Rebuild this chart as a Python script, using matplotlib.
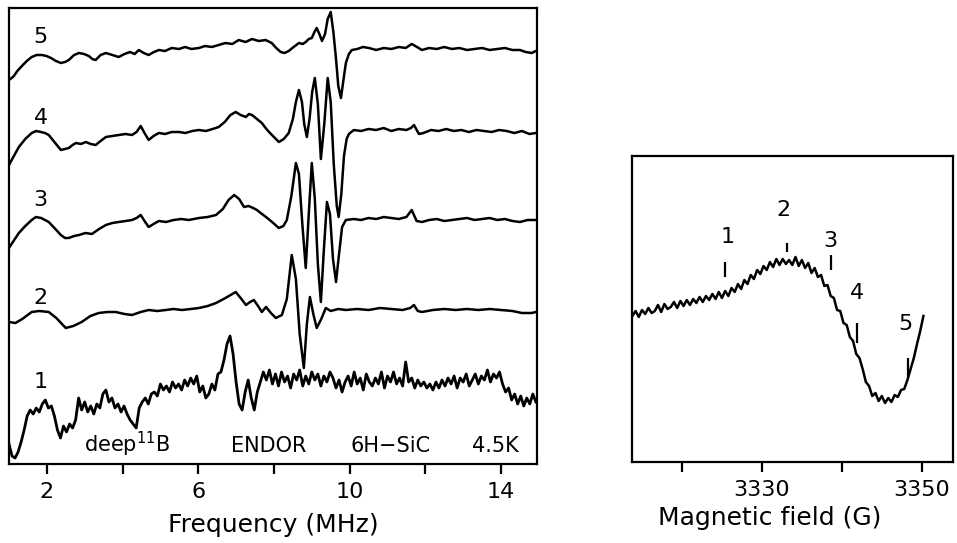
import numpy as np
import matplotlib
matplotlib.use("Agg")
import matplotlib.pyplot as plt

# ENDOR spectra, frequency in MHz, signal in arbitrary units (stacked)
f5 = [1.00, 1.07, 1.13, 1.22, 1.34, 1.47, 1.60, 1.73, 1.87, 1.99, 2.11, 2.24, 2.37, 2.48, 2.58, 2.72, 2.85, 2.98, 3.11, 3.20,
      3.29, 3.42, 3.56, 3.73, 3.90, 4.05, 4.20, 4.32, 4.43, 4.56, 4.69, 4.83, 4.96, 5.12, 5.30, 5.49, 5.65, 5.82, 6.02, 6.18,
      6.36, 6.54, 6.72, 6.90, 7.07, 7.25, 7.42, 7.60, 7.78, 7.94, 8.06, 8.18, 8.28, 8.39, 8.52, 8.66, 8.76, 8.84, 8.92, 9.00,
      9.07, 9.13, 9.20, 9.27, 9.35, 9.42, 9.50, 9.57, 9.64, 9.70, 9.77, 9.84, 9.90, 9.98, 10.06, 10.20, 10.35, 10.51, 10.70, 10.90,
      11.10, 11.30, 11.48, 11.64, 11.78, 11.91, 12.10, 12.30, 12.50, 12.70, 12.90, 13.10, 13.30, 13.50, 13.70, 13.90, 14.10, 14.30, 14.50, 14.65,
      14.81, 14.92]
h5 = [384, 386, 388, 393, 398, 403, 407, 409, 409, 408, 406, 403, 401, 402, 404, 409, 411, 410, 408, 405,
      404, 409, 411, 409, 407, 410, 412, 410, 414, 411, 409, 412, 414, 413, 416, 415, 417, 415, 416, 418,
      417, 419, 421, 420, 424, 422, 425, 423, 424, 421, 416, 412, 411, 413, 417, 421, 420, 422, 425, 426,
      432, 436, 430, 423, 430, 445, 452, 432, 405, 378, 366, 385, 401, 410, 414, 415, 417, 416, 414, 416,
      415, 417, 416, 420, 417, 414, 416, 415, 417, 415, 416, 414, 415, 416, 414, 415, 416, 414, 414, 412,
      411, 413]

f4 = [1.00, 1.10, 1.26, 1.43, 1.60, 1.72, 1.84, 1.95, 2.05, 2.20, 2.37, 2.48, 2.58, 2.68, 2.77, 2.90, 3.03, 3.16, 3.29, 3.42,
      3.56, 3.73, 3.90, 4.08, 4.25, 4.37, 4.48, 4.58, 4.69, 4.82, 4.96, 5.12, 5.30, 5.49, 5.66, 5.84, 6.02, 6.20, 6.38, 6.54,
      6.70, 6.85, 6.99, 7.12, 7.26, 7.34, 7.42, 7.55, 7.68, 7.78, 7.87, 8.00, 8.13, 8.26, 8.39, 8.50, 8.58, 8.66, 8.74, 8.80,
      8.87, 8.94, 9.01, 9.08, 9.16, 9.24, 9.33, 9.42, 9.50, 9.58, 9.66, 9.71, 9.78, 9.85, 9.92, 9.98, 10.11, 10.30, 10.50, 10.70,
      10.90, 11.10, 11.30, 11.50, 11.62, 11.70, 11.83, 11.95, 12.15, 12.35, 12.55, 12.75, 12.95, 13.15, 13.35, 13.55, 13.75, 13.95, 14.15, 14.35,
      14.55, 14.75, 14.92]
h4 = [299, 306, 317, 325, 331, 333, 332, 331, 329, 322, 314, 315, 316, 319, 321, 320, 322, 320, 319, 323,
      327, 328, 329, 330, 329, 332, 338, 331, 324, 328, 331, 330, 332, 332, 331, 333, 334, 333, 335, 337,
      342, 349, 352, 349, 347, 350, 349, 345, 341, 336, 332, 327, 322, 325, 331, 345, 362, 374, 362, 340,
      327, 345, 372, 386, 360, 305, 340, 386, 362, 300, 258, 247, 270, 308, 325, 330, 334, 333, 335, 334,
      336, 333, 335, 334, 336, 339, 330, 331, 334, 333, 335, 333, 334, 332, 334, 333, 332, 334, 333, 331,
      333, 330, 331]

f3 = [1.00, 1.12, 1.26, 1.43, 1.60, 1.71, 1.85, 2.05, 2.20, 2.37, 2.48, 2.58, 2.72, 2.85, 3.02, 3.19, 3.38, 3.56, 3.73, 3.90,
      4.08, 4.25, 4.37, 4.48, 4.58, 4.69, 4.82, 4.96, 5.15, 5.35, 5.55, 5.75, 6.02, 6.25, 6.47, 6.65, 6.80, 6.95, 7.08, 7.21,
      7.33, 7.45, 7.55, 7.65, 7.79, 7.95, 8.13, 8.25, 8.34, 8.46, 8.58, 8.66, 8.75, 8.84, 8.92, 9.00, 9.08, 9.16, 9.24, 9.32,
      9.40, 9.48, 9.56, 9.64, 9.72, 9.80, 9.90, 10.11, 10.30, 10.50, 10.70, 10.90, 11.10, 11.30, 11.50, 11.64, 11.77, 11.91, 12.10, 12.30,
      12.50, 12.70, 12.90, 13.10, 13.30, 13.50, 13.70, 13.90, 14.10, 14.30, 14.50, 14.70, 14.92]
h3 = [216, 223, 231, 238, 244, 247, 246, 242, 236, 229, 226, 226, 228, 229, 231, 230, 235, 239, 241, 242,
      243, 244, 246, 249, 243, 237, 240, 243, 242, 244, 245, 244, 246, 247, 249, 255, 264, 269, 265, 257,
      258, 256, 254, 251, 247, 242, 236, 238, 244, 268, 301, 290, 240, 196, 250, 301, 265, 200, 162, 215,
      262, 250, 205, 182, 210, 237, 244, 245, 244, 246, 245, 247, 246, 245, 247, 254, 243, 242, 244, 245,
      243, 244, 245, 246, 244, 245, 246, 244, 245, 243, 242, 244, 244]

f2 = [1.00, 1.17, 1.35, 1.60, 1.80, 2.05, 2.25, 2.50, 2.70, 2.92, 3.15, 3.37, 3.60, 3.82, 4.05, 4.25, 4.48, 4.69, 4.92, 5.14,
      5.35, 5.57, 5.80, 6.02, 6.25, 6.47, 6.72, 6.99, 7.12, 7.26, 7.37, 7.47, 7.58, 7.68, 7.79, 7.92, 8.05, 8.21, 8.34, 8.47,
      8.58, 8.68, 8.79, 8.87, 8.95, 9.04, 9.13, 9.25, 9.37, 9.50, 9.70, 9.90, 10.20, 10.50, 10.80, 11.10, 11.40, 11.60, 11.70, 11.80,
      11.91, 12.20, 12.50, 12.80, 13.10, 13.40, 13.70, 14.00, 14.30, 14.55, 14.81, 14.92]
h2 = [142, 141, 145, 152, 153, 152, 146, 136, 138, 142, 148, 151, 152, 152, 150, 149, 152, 154, 153, 154,
      155, 154, 155, 156, 158, 161, 166, 172, 166, 159, 162, 164, 158, 152, 157, 151, 146, 149, 165, 209,
      185, 130, 96, 140, 167, 150, 136, 145, 156, 153, 155, 154, 155, 154, 156, 155, 154, 156, 159, 153,
      152, 154, 155, 154, 155, 154, 155, 154, 153, 151, 151, 152]

# trace 1 sampled every 0.08 MHz from 1.00 MHz
f1_start, f1_step = 1.00, 0.08
h1 = [20, 8, 6, 12, 22, 34, 48, 54, 50, 56,
      52, 60, 64, 56, 58, 48, 34, 26, 38, 32,
      40, 36, 44, 66, 54, 62, 52, 58, 50, 60,
      56, 70, 74, 62, 66, 56, 60, 52, 58, 50,
      44, 40, 36, 56, 62, 66, 60, 70, 72, 68,
      80, 74, 78, 72, 82, 76, 80, 74, 84, 78,
      86, 80, 88, 72, 78, 66, 70, 80, 74, 90,
      92, 104, 120, 128, 110, 82, 60, 54, 72, 84,
      66, 54, 72, 82, 92, 84, 94, 80, 90, 78,
      92, 82, 88, 76, 90, 84, 94, 78, 88, 80,
      92, 84, 90, 78, 88, 82, 92, 86, 76, 84,
      72, 82, 88, 78, 92, 80, 86, 74, 90, 82,
      78, 86, 80, 92, 76, 88, 82, 92, 80, 86,
      78, 102, 82, 86, 76, 84, 78, 82, 76, 80,
      74, 82, 76, 84, 78, 86, 80, 88, 76, 86,
      82, 90, 78, 84, 90, 80, 88, 84, 94, 82,
      90, 86, 92, 80, 72, 76, 64, 70, 60, 68,
      58, 66, 60, 70, 62]
f1 = f1_start + f1_step * np.arange(len(h1))

trace_names = ["1", "2", "3", "4", "5"]
trace_label_h = [82, 166, 264, 346, 427]

# EPR line, field sampled every 0.4 G from 3313.8 G
b_start, b_step = 3313.8, 0.4
epr = [146, 151, 145, 152, 148, 154, 149, 151, 157, 150, 158, 153, 155, 160, 154, 161, 156, 162, 157, 163,
       159, 165, 160, 166, 162, 168, 163, 170, 164, 171, 166, 174, 170, 178, 173, 182, 178, 187, 183, 192,
       188, 196, 192, 200, 195, 203, 197, 203, 198, 202, 197, 205, 196, 202, 194, 199, 189, 194, 185, 187,
       176, 177, 166, 164, 152, 151, 139, 137, 125, 121, 108, 104, 93, 80, 76, 66, 69, 61, 66, 59,
       64, 60, 67, 65, 72, 73, 82, 93, 104, 118, 131, 146]
field = b_start + b_step * np.arange(len(epr))

mark_field = [3325.4, 3333.1, 3338.6, 3341.9, 3348.25]
mark_lo = [185, 210, 192, 119, 85]
mark_hi = [200, 219, 207, 139, 104]
mark_text_field = [3325.7, 3332.75, 3338.6, 3341.9, 3347.9]
mark_text_h = [225, 252, 221, 169, 138]

fig = plt.figure(figsize=(9.57, 5.43), dpi=100)
ax = fig.add_axes([9 / 957, 79 / 543, 528 / 957, 456 / 543])
ax2 = fig.add_axes([632 / 957, 81 / 543, 321 / 957, 306 / 543])

lw = 1.8
ax.plot(f1, h1, color="black", lw=2.0)
ax.plot(f2, h2, color="black", lw=lw)
ax.plot(f3, h3, color="black", lw=lw)
ax.plot(f4, h4, color="black", lw=lw)
ax.plot(f5, h5, color="black", lw=lw)
for name, hl in zip(trace_names, trace_label_h):
    ax.text(1.84, hl, name, fontsize=16, ha="center", va="center")

ax.text(2.98, 12, "deep$^{11}$B", fontsize=15, va="baseline")
ax.text(6.86, 12, "ENDOR", fontsize=15, va="baseline")
ax.text(10.03, 12, "6H\u2212SiC", fontsize=15, va="baseline")
ax.text(13.22, 12, "4.5K", fontsize=15, va="baseline")

ax.set_xlim(1.0, 14.95)
ax.set_ylim(0, 456)
ax.set_xticks([2, 6, 10, 14])
ax.set_xticks([4, 8, 12], minor=True)
ax.set_yticks([])
ax.set_xlabel("Frequency (MHz)", fontsize=18, labelpad=8)

ax2.plot(field, epr, color="black", lw=1.8)
ax2.vlines(mark_field, mark_lo, mark_hi, color="black", lw=1.6)
for i, (bf, bh) in enumerate(zip(mark_text_field, mark_text_h)):
    ax2.text(bf, bh, str(i + 1), fontsize=16, ha="center", va="center")
ax2.set_xlim(3313.75, 3353.9)
ax2.set_ylim(0, 306)
ax2.set_xticks([3330, 3350])
ax2.set_xticks([3320, 3340], minor=True)
ax2.set_yticks([])
fig.text(770 / 957, 1 - 518 / 543, "Magnetic field (G)", fontsize=18, ha="center", va="center")

for a in (ax, ax2):
    for s in a.spines.values():
        s.set_linewidth(1.6)
    a.tick_params(axis="x", which="both", direction="out", width=1.6, labelsize=16, pad=6)
    a.tick_params(axis="x", which="major", length=7)
    a.tick_params(axis="x", which="minor", length=7)

fig.savefig("out.png", dpi=100)
